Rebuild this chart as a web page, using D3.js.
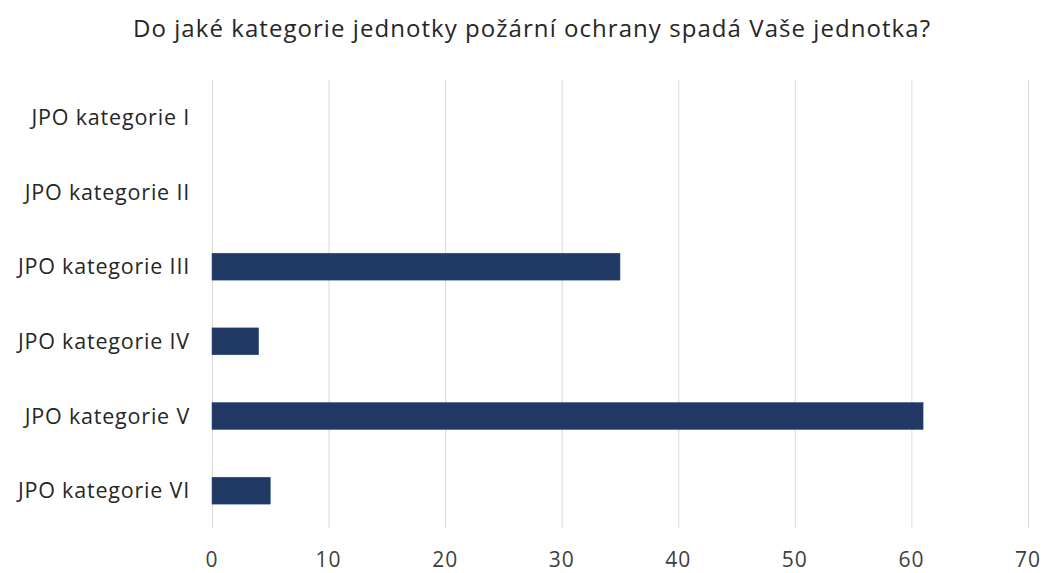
<!DOCTYPE html>
<html>
<head>
<meta charset="utf-8">
<script src="https://cdn.jsdelivr.net/npm/d3@7"></script>
<style>
  body { margin: 0; background: #fff; }
  .grid line { stroke: #d9d9d9; stroke-width: 1; }
  .grid path { display: none; }
</style>
</head>
<body>
<div id="chart"></div>
<script>
// data
var categories = ["JPO kategorie I", "JPO kategorie II", "JPO kategorie III",
                  "JPO kategorie IV", "JPO kategorie V", "JPO kategorie VI"];
var values = [0, 0, 35, 4, 61, 5];
var tickValues = [0, 10, 20, 30, 40, 50, 60, 70];
var title = "Do jaké kategorie jednotky požární ochrany spadá Vaše jednotka?";

var width = 1044, height = 573;
var margin = { top: 80, right: 16, bottom: 45, left: 212 };
var innerW = width - margin.left - margin.right,
    innerH = height - margin.top - margin.bottom;

var svg = d3.select("#chart")
            .append("svg")
            .attr("width", width)
            .attr("height", height);

svg.append("text")
   .attr("x", 133)
   .attr("y", 37)
   .attr("textLength", 797)
   .attr("lengthAdjust", "spacing")
   .attr("font-family", "'Open Sans', sans-serif")
   .attr("font-size", "24px")
   .attr("fill", "#262626")
   .text(title);

var g = svg.append("g")
           .attr("transform", "translate(" + margin.left + "," + margin.top + ")");

var x = d3.scaleLinear()
          .domain([0, 70])
          .range([0, innerW]);

var y = d3.scaleBand()
          .domain(categories)
          .range([0, innerH])
          .paddingInner(0.64)
          .paddingOuter(0.32);

// vertical gridlines
g.append("g")
 .attr("class", "grid")
 .call(d3.axisBottom(x)
         .tickValues(tickValues)
         .tickFormat("")
         .tickSize(innerH))
 .call(function(s) { s.selectAll(".tick line").attr("y1", 0); });

// bars
g.selectAll(".bar")
 .data(values)
 .enter()
 .append("rect")
 .attr("class", "bar")
 .attr("x", x(0))
 .attr("y", function(d, i) { return y(categories[i]); })
 .attr("width", function(d) { return x(d) - x(0); })
 .attr("height", y.bandwidth())
 .attr("fill", "#203864")
 .attr("stroke", "#2f4a7a")
 .attr("stroke-width", 0.5);

// x tick labels
g.selectAll(".xlab")
 .data(tickValues)
 .enter()
 .append("text")
 .attr("class", "xlab")
 .attr("x", function(d) { return x(d); })
 .attr("y", innerH + 39)
 .attr("text-anchor", "middle")
 .attr("font-family", "'Open Sans', sans-serif")
 .attr("font-size", "21px")
 .attr("letter-spacing", "1px")
 .attr("fill", "#404040")
 .text(function(d) { return d; });

// category labels
g.selectAll(".ylab")
 .data(categories)
 .enter()
 .append("text")
 .attr("class", "ylab")
 .attr("x", -22)
 .attr("y", function(d) { return y(d) + y.bandwidth() / 2; })
 .attr("dy", "0.36em")
 .attr("text-anchor", "end")
 .attr("font-family", "'Open Sans', sans-serif")
 .attr("font-size", "21.5px")
 .attr("letter-spacing", "0.8px")
 .attr("fill", "#262626")
 .text(function(d) { return d; });
</script>
</body>
</html>
